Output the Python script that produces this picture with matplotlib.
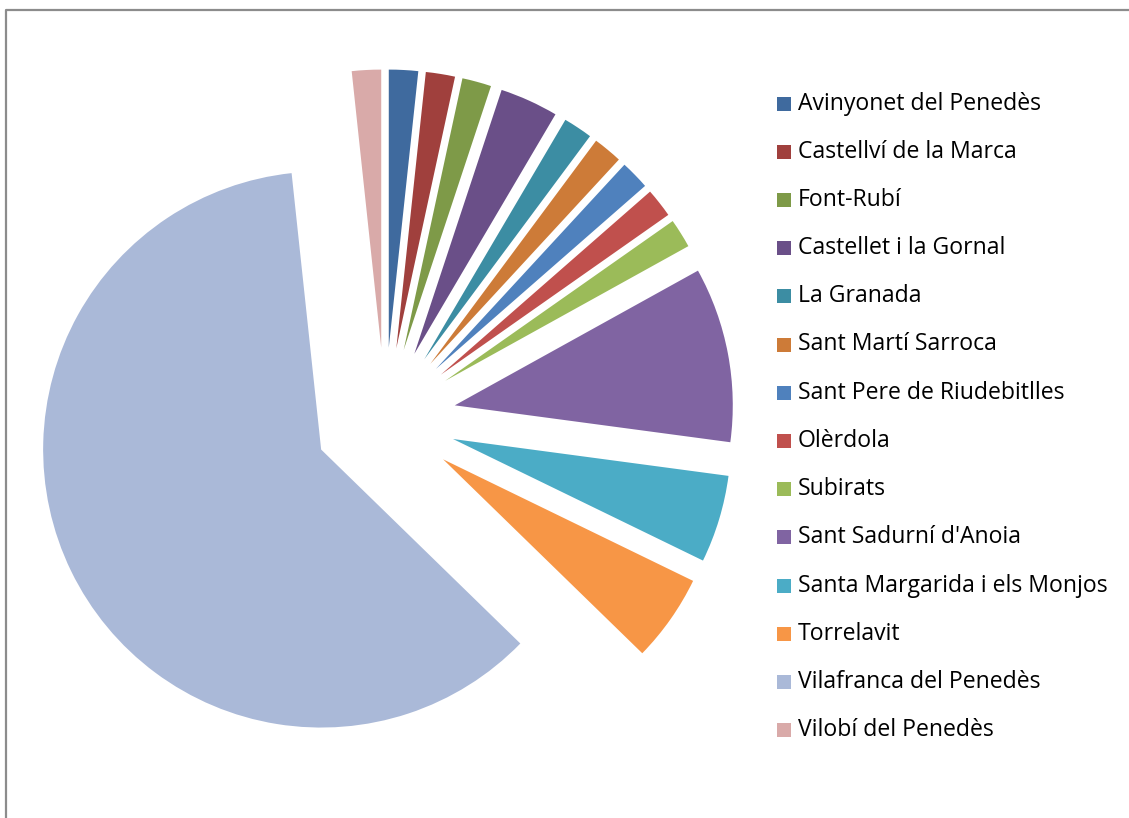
import matplotlib.pyplot as plt
from matplotlib.patches import Rectangle
from matplotlib.lines import Line2D

# Data
municipis = ['Avinyonet del Penedès', 'Castellví de la Marca', 'Font-Rubí',
             'Castellet i la Gornal', 'La Granada', 'Sant Martí Sarroca',
             'Sant Pere de Riudebitlles', 'Olèrdola', 'Subirats',
             "Sant Sadurní d'Anoia", 'Santa Margarida i els Monjos',
             'Torrelavit', 'Vilafranca del Penedès', 'Vilobí del Penedès']
valors = [1, 1, 1, 2, 1, 1, 1, 1, 1, 6, 3, 3, 36, 1]
colors = ['#3F6A9E', '#A0403D', '#7E9A48', '#6A4F88', '#3C8DA3', '#CD7B38',
          '#4F81BD', '#C0504D', '#9BBB59', '#8064A2', '#4BACC6', '#F79646',
          '#AAB9D8', '#D9AAA9']

W, H = 1129, 818
fig = plt.figure(figsize=(W / 100, H / 100), dpi=100)
ax = fig.add_axes([0, 0, 1, 1])

# pie in pixel units (y up)
ax.pie(valors, colors=colors, startangle=90, counterclock=False,
       radius=278, center=(385, H - 418.5), explode=[71] * len(valors),
       wedgeprops=dict(linewidth=0))
ax.set_xlim(0, W)
ax.set_ylim(0, H)
ax.set_aspect('equal')
ax.axis('off')

# legend drawn by hand
for i, (name, c) in enumerate(zip(municipis, colors)):
    yc = H - (103.5 + i * 48.2)
    ax.add_patch(Rectangle((777, yc - 7), 14, 14, facecolor=c, edgecolor='none'))
    ax.text(798, yc, name, fontsize=16.6, family='Open Sans', va='center',
            ha='left', color='#000000')

# chart border (left and top only visible)
fig.add_artist(Line2D([6 / W, 6 / W, 1], [0, 1 - 9.5 / H, 1 - 9.5 / H],
                      transform=fig.transFigure, color='#8C8C8C', lw=1.6))

fig.savefig('out.png', dpi=100)
